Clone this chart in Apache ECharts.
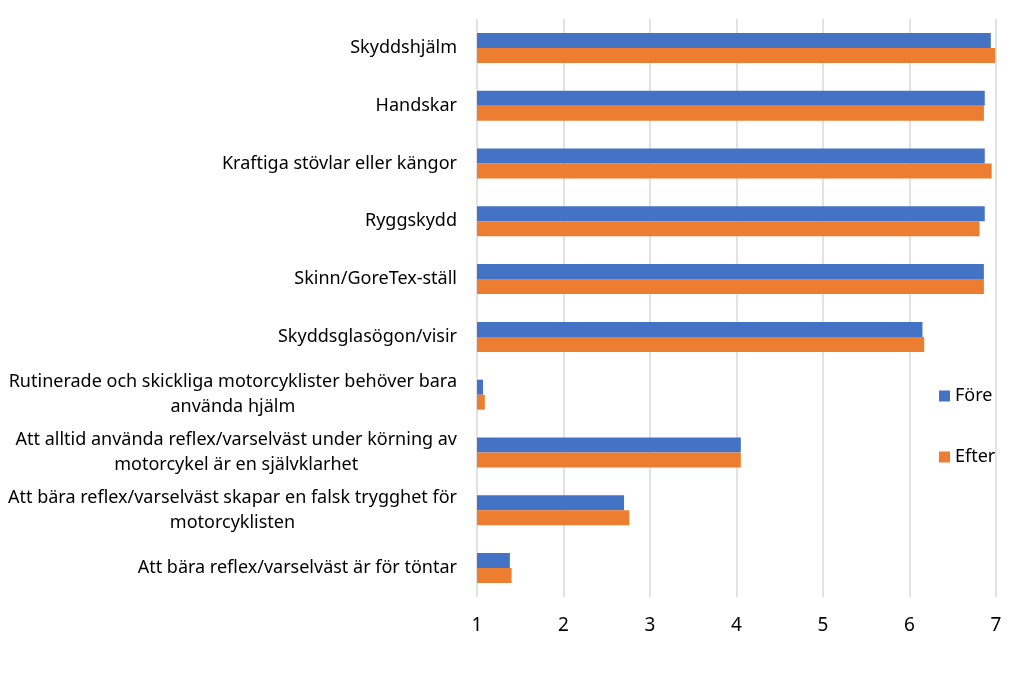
<!DOCTYPE html>
<html>
<head>
    <meta charset="UTF-8">
    <title>Skyddsutrustning före och efter</title>
    <script src="https://cdn.jsdelivr.net/npm/echarts@6/dist/echarts.min.js"></script>
    <style>
        html, body { margin: 0; padding: 0; background: #ffffff; }
        #chart { width: 1021px; height: 693px; }
    </style>
</head>
<body>
<div id="chart"></div>
<script type="text/javascript">
    // kategorier (uppifrån och ned)
    var categories = [
        'Skyddshjälm',
        'Handskar',
        'Kraftiga stövlar eller kängor',
        'Ryggskydd',
        'Skinn/GoreTex-ställ',
        'Skyddsglasögon/visir',
        'Rutinerade och skickliga motorcyklister behöver bara\nanvända hjälm',
        'Att alltid använda reflex/varselväst under körning av\nmotorcykel är en självklarhet',
        'Att bära reflex/varselväst skapar en falsk trygghet för\nmotorcyklisten',
        'Att bära reflex/varselväst är för töntar'
    ];
    // värden
    var fore = [6.94, 6.87, 6.87, 6.87, 6.86, 6.15, 1.07, 4.05, 2.70, 1.38];
    var efter = [6.99, 6.86, 6.95, 6.81, 6.86, 6.17, 1.09, 4.05, 2.76, 1.40];
    var seriesNames = ['Före', 'Efter'];
    var xTicks = [1, 2, 3, 4, 5, 6, 7];

    var fontName = 'Noto Sans';
    var ctx = document.createElement('canvas').getContext('2d');
    ctx.font = '18px "' + fontName + '"';

    // rader med två textrader: centrera raderna, högerjustera blocket
    var yData = categories.map(function (c) {
        var lines = c.split('\n');
        if (lines.length < 2) return c;
        var w = 0;
        lines.forEach(function (l) { w = Math.max(w, ctx.measureText(l).width); });
        return {
            value: c,
            textStyle: { align: 'center', padding: [0, w, 0, 0] }
        };
    });

    var chart = echarts.init(document.getElementById('chart'));
    var option = {
        animation: false,
        backgroundColor: '#ffffff',
        color: ['#4472C4', '#ED7D31'],
        grid: { left: 477, right: 25, top: 19, bottom: 96, containLabel: false },
        legend: {
            data: seriesNames,
            orient: 'vertical',
            left: 934,
            top: 382,
            itemWidth: 11,
            itemHeight: 11,
            itemGap: 43,
            icon: 'rect',
            textStyle: { fontFamily: fontName, fontSize: 18, color: '#000000' }
        },
        xAxis: {
            type: 'value',
            min: xTicks[0],
            max: xTicks[xTicks.length - 1],
            interval: 1,
            axisLine: { show: false },
            axisTick: { show: false },
            splitLine: { lineStyle: { color: '#d9d9d9', width: 1.5 } },
            axisLabel: {
                margin: 19,
                fontFamily: fontName,
                fontSize: 19,
                color: '#000000'
            }
        },
        yAxis: {
            type: 'category',
            inverse: true,
            data: yData,
            axisLine: { show: false },
            axisTick: { show: false },
            axisLabel: {
                margin: 20,
                fontFamily: fontName,
                fontSize: 18,
                lineHeight: 25,
                color: '#000000'
            }
        },
        series: [
            {
                name: seriesNames[0],
                type: 'bar',
                data: fore,
                barWidth: 15,
                barGap: '0%'
            },
            {
                name: seriesNames[1],
                type: 'bar',
                data: efter,
                barWidth: 15,
                barGap: '0%'
            }
        ]
    };
    chart.setOption(option);
</script>
</body>
</html>
